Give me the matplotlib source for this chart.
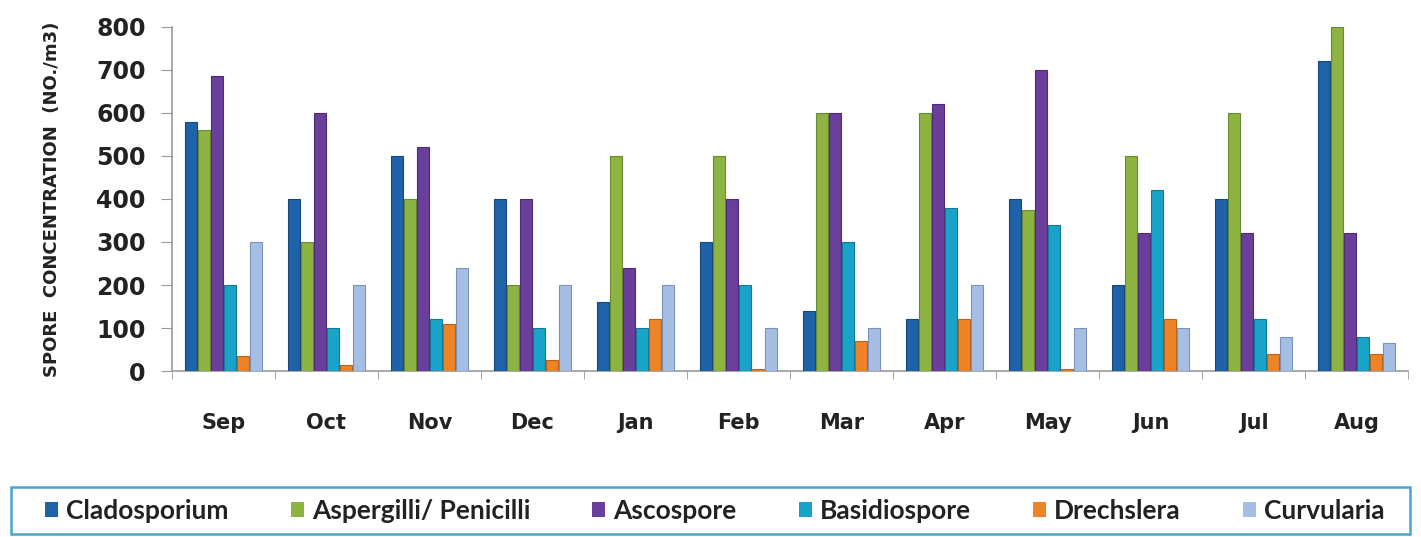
import matplotlib.pyplot as plt
from matplotlib.patches import Rectangle
import numpy as np

months = ["Sep", "Oct", "Nov", "Dec", "Jan", "Feb", "Mar", "Apr", "May", "Jun", "Jul", "Aug"]
series = ["Cladosporium", "Aspergilli/ Penicilli", "Ascospore", "Basidiospore", "Drechslera", "Curvularia"]
cladosporium = [580, 400, 500, 400, 160, 300, 140, 120, 400, 200, 400, 720]
aspergilli = [560, 300, 400, 200, 500, 500, 600, 600, 375, 500, 600, 800]
ascospore = [685, 600, 520, 400, 240, 400, 600, 620, 700, 320, 320, 320]
basidiospore = [200, 100, 120, 100, 100, 200, 300, 380, 340, 420, 120, 80]
drechslera = [35, 15, 110, 25, 120, 5, 70, 120, 5, 120, 40, 40]
curvularia = [300, 200, 240, 200, 200, 100, 100, 200, 100, 100, 80, 65]

values = [cladosporium, aspergilli, ascospore, basidiospore, drechslera, curvularia]
colors = ["#1F62A8", "#8DB343", "#6A3F9C", "#1AA3C8", "#EF8327", "#A4BFE3"]
edges = ["#16487C", "#6A8A30", "#4E2C75", "#137A96", "#B8621C", "#7A93B8"]

plt.rcParams['font.family'] = ['DejaVu Sans']

fig = plt.figure(figsize=(14.21, 5.37), dpi=100)
ax = fig.add_axes([0.121, 0.309, 0.870, 0.641])

x = np.arange(len(months))
w = 0.126
for i, (name, vals) in enumerate(zip(series, values)):
    ax.bar(x + (i - 2.5) * w, vals, width=w * 0.92, color=colors[i],
           edgecolor=edges[i], linewidth=0.8, label=name, zorder=3)

ax.set_xlim(-0.5, len(months) - 0.5)
ax.set_ylim(0, 800)
ax.set_yticks(range(0, 801, 100))
ax.set_yticklabels([str(v) for v in range(0, 801, 100)], fontsize=17, fontweight='bold', color='#222222')
ax.set_xticks(x)
ax.set_xticklabels(months, fontsize=15, fontweight='bold', color='#222222')
ax.tick_params(axis='x', which='major', length=0, pad=30)
ax.set_xticks(np.arange(-0.5, len(months)), minor=True)
ax.tick_params(axis='x', which='minor', length=6, color='#999999', direction='out')
ax.tick_params(axis='y', length=8, color='#999999', pad=11)

for s in ['top', 'right']:
    ax.spines[s].set_visible(False)
for s in ['left', 'bottom']:
    ax.spines[s].set_color('#999999')
    ax.spines[s].set_linewidth(1.2)

ax.set_ylabel("SPORE  CONCENTRATION  (NO./m3)", fontsize=13, fontweight='bold', color='#222222', labelpad=25)

# legend box spanning the figure width
fig.patches.append(Rectangle((0.008, 0.005), 0.984, 0.088, transform=fig.transFigure,
                             fill=False, edgecolor='#4AA3D0', linewidth=1.8))
leg = fig.legend(loc='center', bbox_to_anchor=(0.503, 0.049), ncol=6, frameon=False,
                 handlelength=0.5, handleheight=0.5, handletextpad=0.3, columnspacing=2.35,
                 prop={'family': 'Lato', 'weight': 'bold', 'size': 19})
for t in leg.get_texts():
    t.set_color('#222222')
for h in leg.legend_handles:
    h.set_linewidth(0)

fig.savefig("out.png", dpi=100)
